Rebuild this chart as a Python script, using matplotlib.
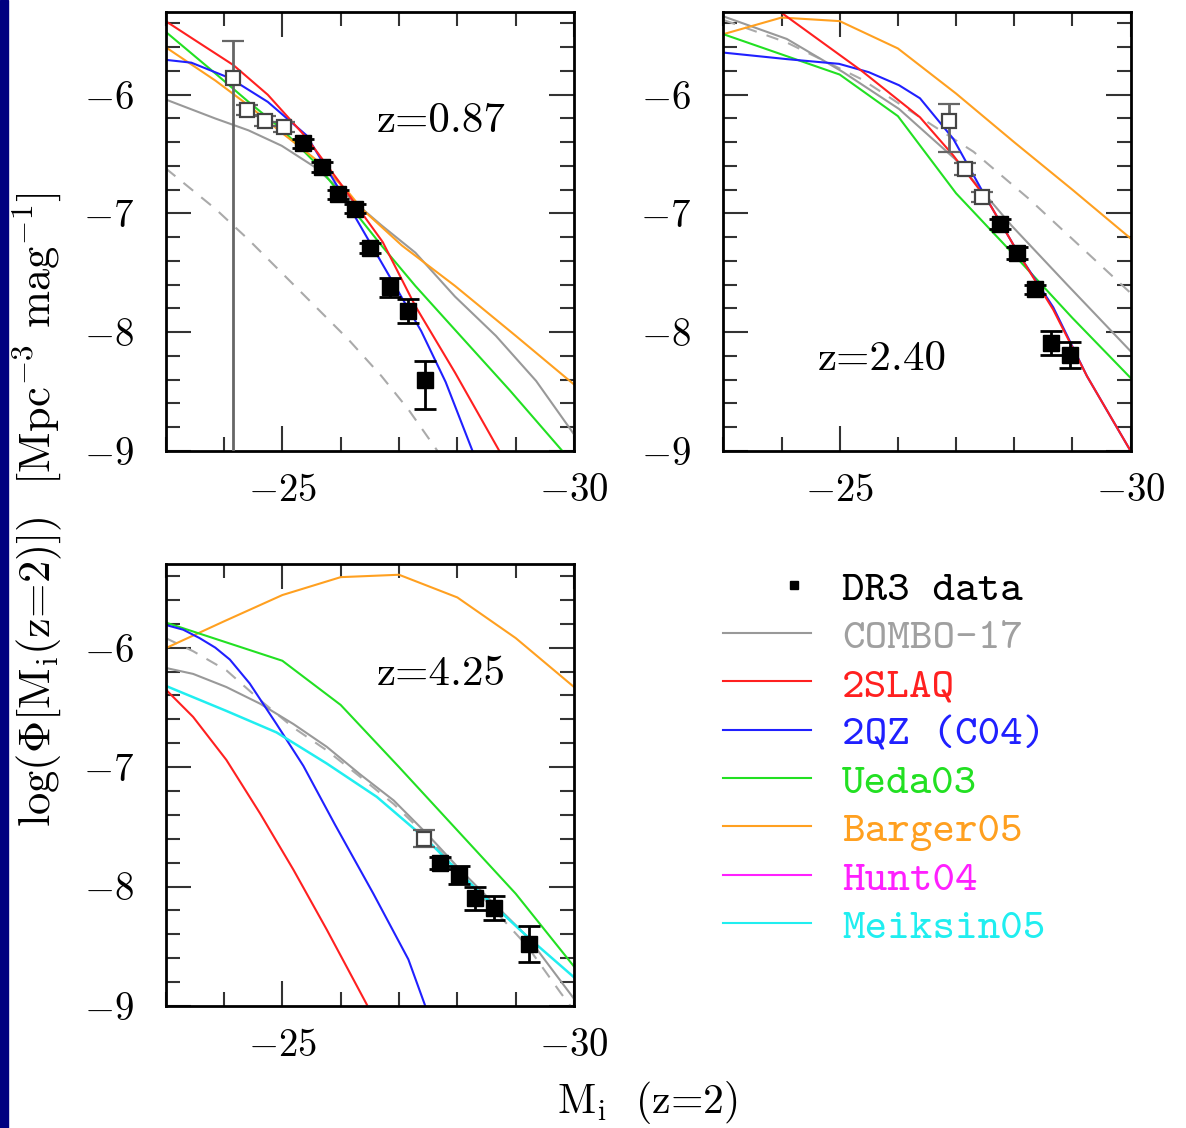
import matplotlib
matplotlib.use('Agg')
import matplotlib.pyplot as plt
from matplotlib.ticker import MultipleLocator
from matplotlib.lines import Line2D
from matplotlib.patches import Rectangle
from matplotlib.legend_handler import HandlerLine2D

plt.rcParams['font.family'] = 'cmr10'
plt.rcParams['mathtext.fontset'] = 'cm'
plt.rcParams['axes.formatter.use_mathtext'] = True

# ---- z = 0.87 panel ----
combo1_x = [-23, -23.85, -24.42, -24.99, -25.56, -26.13, -26.7, -27.28, -27.96, -28.66, -29.35, -30]
combo1_y = [-6.04, -6.20, -6.30, -6.43, -6.61, -6.86, -7.10, -7.33, -7.70, -8.03, -8.41, -8.86]
dash1_x = [-23, -23.85, -24.42, -24.99, -25.56, -26.13, -26.70, -27.16, -27.66]
dash1_y = [-6.62, -6.96, -7.22, -7.50, -7.78, -8.06, -8.37, -8.65, -9.0]
red1_x = [-23, -23.5, -24.16, -24.75, -25.41, -26.06, -26.72, -27.28, -27.96, -28.72]
red1_y = [-5.38, -5.54, -5.75, -6.0, -6.36, -6.79, -7.24, -7.78, -8.34, -9.0]
blue1_x = [-23, -23.44, -24.10, -24.75, -25.41, -25.93, -26.39, -26.72, -27.38, -27.80, -28.26]
blue1_y = [-5.706, -5.73, -5.86, -6.06, -6.34, -6.76, -7.15, -7.43, -7.99, -8.42, -9.0]
green1_x = [-23, -23.85, -24.42, -24.99, -25.56, -26.02, -26.70, -27.28, -27.96, -28.9, -29.8]
green1_y = [-5.47, -5.82, -6.06, -6.29, -6.57, -6.85, -7.27, -7.61, -7.98, -8.49, -9.0]
orange1_x = [-23, -23.85, -24.42, -24.99, -25.56, -26.13, -26.36, -27.05, -27.96, -29.0, -30]
orange1_y = [-5.60, -5.88, -6.09, -6.32, -6.54, -6.82, -6.96, -7.27, -7.61, -8.03, -8.44]

open1_x = [-24.16, -24.40, -24.70, -25.02]
open1_y = [-5.86, -6.13, -6.22, -6.27]
open1_lo = [4.0, 0.04, 0.04, 0.04]
open1_hi = [0.31, 0.04, 0.04, 0.04]
dr3_1_x = [-25.36, -25.68, -25.96, -26.25, -26.50, -26.85, -27.15, -27.45]
dr3_1_y = [-6.41, -6.61, -6.84, -6.96, -7.29, -7.62, -7.82, -8.40]
dr3_1_lo = [0.04, 0.04, 0.04, 0.04, 0.04, 0.08, 0.10, 0.25]
dr3_1_hi = [0.04, 0.04, 0.04, 0.04, 0.04, 0.08, 0.10, 0.16]

# ---- z = 2.40 panel ----
combo2_x = [-23, -24.09, -25.06, -26.02, -26.98, -27.95, -28.91, -30]
combo2_y = [-5.34, -5.53, -5.81, -6.12, -6.54, -7.10, -7.60, -8.16]
dash2_x = [-23, -24.09, -25.38, -26.35, -27.30, -28.26, -29.23, -30]
dash2_y = [-5.37, -5.56, -5.87, -6.18, -6.48, -6.88, -7.32, -7.67]
red2_x = [-23.0, -24.0, -25.38, -26.38, -26.95, -27.53, -28.10, -28.67, -29.25, -30]
red2_y = [-4.95, -5.31, -5.80, -6.19, -6.51, -6.88, -7.36, -7.81, -8.37, -9.0]
blue2_x = [-23, -24.09, -24.99, -25.50, -26.02, -26.38, -26.95, -27.53, -28.10, -28.67, -29.25, -30]
blue2_y = [-5.645, -5.70, -5.74, -5.81, -5.92, -6.03, -6.37, -6.88, -7.36, -7.79, -8.37, -9.0]
green2_x = [-23, -24, -25, -26, -27, -28, -29, -30]
green2_y = [-5.49, -5.66, -5.83, -6.18, -6.83, -7.35, -7.88, -8.385]
orange2_x = [-23, -24, -25, -26, -27, -28, -29, -30]
orange2_y = [-5.49, -5.35, -5.38, -5.61, -5.99, -6.40, -6.80, -7.21]

open2_x = [-26.87, -27.15, -27.44]
open2_y = [-6.22, -6.625, -6.86]
open2_lo = [0.26, 0.05, 0.04]
open2_hi = [0.14, 0.05, 0.04]
dr3_2_x = [-27.76, -28.04, -28.36, -28.64, -28.96]
dr3_2_y = [-7.09, -7.33, -7.64, -8.09, -8.19]
dr3_2_err = [0.04, 0.05, 0.04, 0.10, 0.11]

# ---- z = 4.25 panel ----
combo3_x = [-23, -23.47, -24.04, -24.62, -25.19, -25.76, -26.33, -26.91, -27.48, -28.05, -28.62, -29.20, -30]
combo3_y = [-6.17, -6.22, -6.33, -6.47, -6.64, -6.83, -7.06, -7.28, -7.56, -7.86, -8.14, -8.42, -8.94]
dash3_x = [-23, -23.47, -24.04, -24.62, -25.19, -25.76, -26.33, -26.91, -27.48, -28.05, -28.62, -29.20, -29.77, -29.94]
dash3_y = [-5.92, -6.03, -6.19, -6.44, -6.67, -6.86, -7.08, -7.31, -7.58, -7.89, -8.19, -8.50, -8.89, -9.0]
red3_x = [-23, -23.47, -24.04, -24.62, -25.19, -25.76, -26.45]
red3_y = [-6.35, -6.58, -6.94, -7.39, -7.86, -8.36, -8.99]
blue3_x = [-23, -23.3, -23.58, -23.85, -24.1, -24.44, -24.90, -25.36, -25.90, -26.56, -27.16, -27.45]
blue3_y = [-5.81, -5.85, -5.92, -6.0, -6.1, -6.3, -6.64, -6.99, -7.48, -8.06, -8.61, -9.0]
green3_x = [-23, -24, -25, -26, -27, -28, -29, -30]
green3_y = [-5.79, -5.95, -6.11, -6.48, -7.0, -7.53, -8.06, -8.67]
orange3_x = [-23, -24, -25, -26, -27, -28, -29, -30]
orange3_y = [-6.005, -5.78, -5.56, -5.41, -5.39, -5.58, -5.92, -6.33]
cyan3_x = [-23, -24.04, -24.90, -25.76, -26.62, -27.48, -28.34, -29.20, -30]
cyan3_y = [-6.32, -6.53, -6.71, -6.97, -7.25, -7.61, -8.03, -8.42, -8.76]

open3_x = [-27.43]
open3_y = [-7.60]
open3_err = [0.07]
dr3_3_x = [-27.71, -28.03, -28.31, -28.63, -29.23]
dr3_3_y = [-7.80, -7.90, -8.10, -8.18, -8.48]
dr3_3_err = [0.05, 0.075, 0.10, 0.10, 0.15]

legend_labels = ['DR3 data', 'COMBO-17', '2SLAQ', '2QZ (C04)', 'Ueda03', 'Barger05', 'Hunt04', 'Meiksin05']

GRAY = '#999999'
DGRAY = '#aaaaaa'
RED = '#ff2020'
BLUE = '#2020ff'
GREEN = '#22e022'
ORANGE = '#ffa020'
MAGENTA = '#ff20ff'
CYAN = '#20eef0'
LW = 1.5

fig = plt.figure(figsize=(11.86, 11.28), dpi=100)
fig.patches.append(Rectangle((0, 0), 7.5 / 1186, 1, transform=fig.transFigure,
                             color='#000080', zorder=0))


def setup(ax):
    ax.set_xlim(-23, -30)
    ax.set_ylim(-9, -5.3)
    ax.xaxis.set_major_locator(MultipleLocator(5))
    ax.xaxis.set_minor_locator(MultipleLocator(1))
    ax.yaxis.set_major_locator(MultipleLocator(1))
    ax.yaxis.set_minor_locator(MultipleLocator(0.2))
    ax.tick_params(which='both', direction='in', top=True, right=True,
                   color='#333333', width=1.5, labelsize=28)
    ax.tick_params(which='major', length=18)
    ax.tick_params(which='minor', length=10)
    ax.tick_params(axis='x', pad=16)
    ax.tick_params(axis='y', pad=23)
    for s in ax.spines.values():
        s.set_linewidth(2)


def points(ax, ox, oy, olo, ohi, fx, fy, flo, fhi):
    ax.errorbar(ox, oy, yerr=[olo, ohi], fmt='s', ms=10, mfc='white', mec='#444444',
                mew=1.6, ecolor='#666666', elinewidth=2, capsize=8, capthick=2, zorder=5)
    ax.errorbar(fx, fy, yerr=[flo, fhi], fmt='s', ms=11, color='black',
                ecolor='black', elinewidth=2, capsize=8, capthick=2, zorder=6)


# panel z=0.87
ax1 = fig.add_axes([0.1397, 0.6002, 0.3443, 0.3895])
setup(ax1)
ax1.plot(dash1_x, dash1_y, color=DGRAY, lw=LW, dashes=(6, 5))
ax1.plot(combo1_x, combo1_y, color=GRAY, lw=LW)
ax1.plot(green1_x, green1_y, color=GREEN, lw=LW)
ax1.plot(orange1_x, orange1_y, color=ORANGE, lw=LW)
ax1.plot(blue1_x, blue1_y, color=BLUE, lw=LW)
ax1.plot(red1_x, red1_y, color=RED, lw=LW)
points(ax1, open1_x, open1_y, open1_lo, open1_hi, dr3_1_x, dr3_1_y, dr3_1_lo, dr3_1_hi)
ax1.text(-27.73, -6.22, 'z=0.87', fontsize=31, ha='center', va='center')

# panel z=2.40
ax2 = fig.add_axes([0.6099, 0.6002, 0.3434, 0.3895])
setup(ax2)
ax2.plot(dash2_x, dash2_y, color=DGRAY, lw=LW, dashes=(6, 5))
ax2.plot(combo2_x, combo2_y, color=GRAY, lw=LW)
ax2.plot(orange2_x, orange2_y, color=ORANGE, lw=LW)
ax2.plot(green2_x, green2_y, color=GREEN, lw=LW)
ax2.plot(blue2_x, blue2_y, color=BLUE, lw=LW)
ax2.plot(red2_x, red2_y, color=RED, lw=LW)
points(ax2, open2_x, open2_y, open2_lo, open2_hi, dr3_2_x, dr3_2_y, dr3_2_err, dr3_2_err)
ax2.text(-25.73, -8.23, 'z=2.40', fontsize=31, ha='center', va='center')

# panel z=4.25
ax3 = fig.add_axes([0.1397, 0.1082, 0.3443, 0.3918])
setup(ax3)
ax3.plot(dash3_x, dash3_y, color=DGRAY, lw=LW, dashes=(6, 5))
ax3.plot(combo3_x, combo3_y, color=GRAY, lw=LW)
ax3.plot(orange3_x, orange3_y, color=ORANGE, lw=LW)
ax3.plot(green3_x, green3_y, color=GREEN, lw=LW)
ax3.plot(red3_x, red3_y, color=RED, lw=LW)
ax3.plot(blue3_x, blue3_y, color=BLUE, lw=LW)
ax3.plot(cyan3_x, cyan3_y, color=CYAN, lw=LW + 0.3)
points(ax3, open3_x, open3_y, open3_err, open3_err, dr3_3_x, dr3_3_y, dr3_3_err, dr3_3_err)
ax3.text(-27.73, -6.22, 'z=4.25', fontsize=31, ha='center', va='center')


class RightMarker(HandlerLine2D):
    # put the DR3 square near the right end of the handle
    def get_xdata(self, legend, xdescent, ydescent, width, height, fontsize):
        x = -xdescent + 0.8 * width
        return [x], [x]


h_dr3 = Line2D([], [], ls='none', marker='s', color='black', ms=6)
line_cols = [GRAY, RED, BLUE, GREEN, ORANGE, MAGENTA, CYAN]
handles = [h_dr3] + [Line2D([], [], color=c, lw=LW) for c in line_cols]
text_cols = ['black', '#a0a0a0', RED, BLUE, GREEN, ORANGE, MAGENTA, CYAN]
fig.legend(handles, legend_labels, loc='upper left', bbox_to_anchor=(0.6096, 0.495),
           frameon=False, prop={'family': 'cmtt10', 'size': 31},
           handlelength=2.05, handletextpad=0.72, labelspacing=0.19,
           borderpad=0, borderaxespad=0, labelcolor=text_cols,
           handler_map={h_dr3: RightMarker()})

fig.text(0.031, 0.548, r'log($\Phi$[M$_{\rm i}$(z=2)])  [Mpc$^{-3}$ mag$^{-1}$]',
         rotation=90, ha='center', va='center', fontsize=32)
fig.text(0.546, 0.023, r'M$_{\rm i}$  (z=2)', ha='center', va='center', fontsize=30)

fig.savefig('out.png', dpi=100)
